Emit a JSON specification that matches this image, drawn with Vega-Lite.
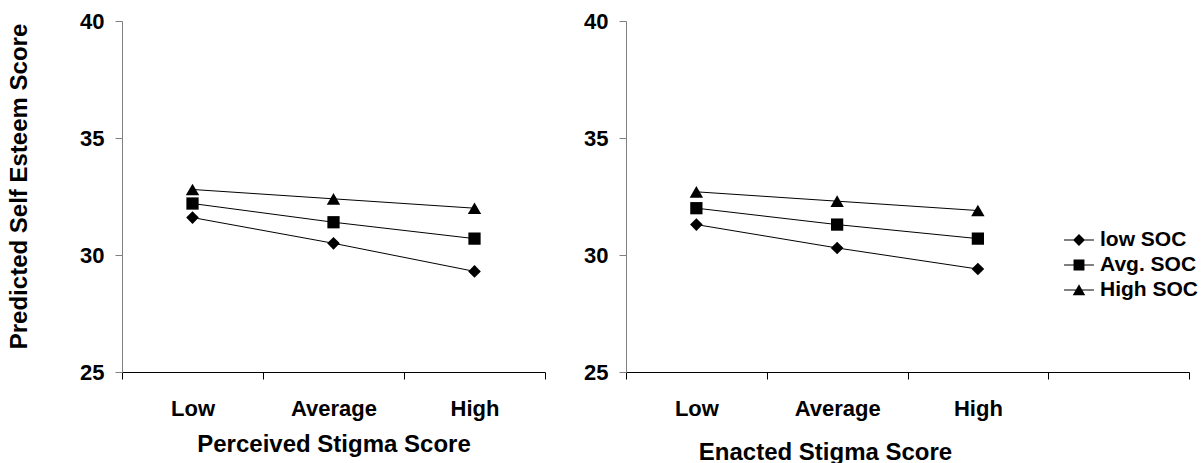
{
  "$schema": "https://vega.github.io/schema/vega-lite/v6.json",
  "padding": {"left": 7, "top": 10, "right": 0, "bottom": 0},
  "spacing": 81,
  "bounds": "flush",
  "config": {
    "view": {"stroke": null},
    "font": "Liberation Sans",
    "axis": {"grid": false, "labelFont": "Liberation Sans", "labelFontWeight": "bold", "labelColor": "black", "titleFont": "Liberation Sans", "titleFontWeight": "bold", "titleColor": "black"}
  },
  "data": {"values": [
    {"panel": "Perceived", "stigma": "Low", "series": "low SOC", "value": 31.6},
    {"panel": "Perceived", "stigma": "Low", "series": "Avg. SOC", "value": 32.2},
    {"panel": "Perceived", "stigma": "Low", "series": "High SOC", "value": 32.8},
    {"panel": "Perceived", "stigma": "Average", "series": "low SOC", "value": 30.5},
    {"panel": "Perceived", "stigma": "Average", "series": "Avg. SOC", "value": 31.4},
    {"panel": "Perceived", "stigma": "Average", "series": "High SOC", "value": 32.4},
    {"panel": "Perceived", "stigma": "High", "series": "low SOC", "value": 29.3},
    {"panel": "Perceived", "stigma": "High", "series": "Avg. SOC", "value": 30.7},
    {"panel": "Perceived", "stigma": "High", "series": "High SOC", "value": 32.0},
    {"panel": "Enacted", "stigma": "Low", "series": "low SOC", "value": 31.3},
    {"panel": "Enacted", "stigma": "Low", "series": "Avg. SOC", "value": 32.0},
    {"panel": "Enacted", "stigma": "Low", "series": "High SOC", "value": 32.7},
    {"panel": "Enacted", "stigma": "Average", "series": "low SOC", "value": 30.3},
    {"panel": "Enacted", "stigma": "Average", "series": "Avg. SOC", "value": 31.3},
    {"panel": "Enacted", "stigma": "Average", "series": "High SOC", "value": 32.3},
    {"panel": "Enacted", "stigma": "High", "series": "low SOC", "value": 29.4},
    {"panel": "Enacted", "stigma": "High", "series": "Avg. SOC", "value": 30.7},
    {"panel": "Enacted", "stigma": "High", "series": "High SOC", "value": 31.9}
  ]},
  "hconcat": [
    {
      "width": 423,
      "height": 351,
      "transform": [{"filter": "datum.panel == 'Perceived'"}],
      "encoding": {
        "x": {"field": "stigma", "type": "nominal", "sort": ["Low", "Average", "High"],
              "scale": {"type": "band", "domain": ["Low", "Average", "High"], "paddingInner": 0, "paddingOuter": 0},
              "axis": {"title": "Perceived Stigma Score", "labelAngle": 0, "tickBand": "extent", "domainColor": "black", "tickColor": "black", "tickSize": 7,
                       "labelFontSize": 22, "labelBaseline": "alphabetic", "labelPadding": 36, "titleFontSize": 24, "titleBaseline": "alphabetic", "titleY": 79}},
        "y": {"field": "value", "type": "quantitative",
              "scale": {"domain": [25, 40], "nice": false, "zero": false},
              "axis": {"title": "Predicted Self Esteem Score", "values": [25, 30, 35, 40], "domainColor": "#808080", "tickColor": "#808080", "tickSize": 7,
                       "labelFontSize": 22, "labelPadding": 11, "titleFontSize": 24, "titleAngle": 270, "titleBaseline": "alphabetic", "titleX": -96, "titleY": 165}}
      },
      "layer": [
        {"mark": {"type": "line", "color": "black", "strokeWidth": 1}, "encoding": {"detail": {"field": "series"}}},
        {"transform": [{"filter": "datum.series == 'low SOC'"}], "mark": {"type": "point", "shape": "diamond", "filled": true, "color": "black", "opacity": 1, "size": 160}},
        {"transform": [{"filter": "datum.series == 'Avg. SOC'"}], "mark": {"type": "point", "shape": "square", "filled": true, "color": "black", "opacity": 1, "size": 150}},
        {"transform": [{"filter": "datum.series == 'High SOC'"}], "mark": {"type": "point", "shape": "triangle-up", "filled": true, "color": "black", "opacity": 1, "size": 180}}
      ]
    },
    {
      "width": 563,
      "height": 351,
      "transform": [{"filter": "datum.panel == 'Enacted'"}],
      "encoding": {
        "x": {"field": "stigma", "type": "nominal",
              "scale": {"type": "band", "domain": ["Low", "Average", "High", "_"], "paddingInner": 0, "paddingOuter": 0},
              "axis": {"title": "Enacted Stigma Score", "labelAngle": 0, "labelExpr": "datum.value == '_' ? '' : datum.value", "tickBand": "extent", "domainColor": "black", "tickColor": "black", "tickSize": 7,
                       "labelFontSize": 22, "labelBaseline": "alphabetic", "labelPadding": 36, "titleFontSize": 24, "titleBaseline": "alphabetic", "titleX": 199, "titleY": 87}},
        "y": {"field": "value", "type": "quantitative",
              "scale": {"domain": [25, 40], "nice": false, "zero": false},
              "axis": {"title": null, "values": [25, 30, 35, 40], "domainColor": "#808080", "tickColor": "#808080", "tickSize": 7,
                       "labelFontSize": 22, "labelPadding": 11}}
      },
      "layer": [
        {"mark": {"type": "line", "color": "black", "strokeWidth": 1}, "encoding": {"detail": {"field": "series"}}},
        {"transform": [{"filter": "datum.series == 'low SOC'"}], "mark": {"type": "point", "shape": "diamond", "filled": true, "color": "black", "opacity": 1, "size": 160}},
        {"transform": [{"filter": "datum.series == 'Avg. SOC'"}], "mark": {"type": "point", "shape": "square", "filled": true, "color": "black", "opacity": 1, "size": 150}},
        {"transform": [{"filter": "datum.series == 'High SOC'"}], "mark": {"type": "point", "shape": "triangle-up", "filled": true, "color": "black", "opacity": 1, "size": 180}},
        {"transform": [{"filter": "false"}],
         "mark": {"type": "point", "filled": true, "color": "black", "opacity": 1},
         "encoding": {"shape": {"field": "series", "type": "nominal",
            "scale": {"domain": ["low SOC", "Avg. SOC", "High SOC"],
                      "range": ["M-1.15,-0.04H1.15V0.04H-1.15ZM0,-0.46L0.46,0L0,0.46L-0.46,0Z", "M-1.15,-0.04H1.15V0.04H-1.15ZM-0.42,-0.42H0.42V0.42H-0.42Z", "M-1.15,-0.04H1.15V0.04H-1.15ZM0,-0.44L0.48,0.4H-0.48Z"]},
            "legend": {"title": null, "orient": "none", "legendX": 943, "legendY": 205, "padding": 0, "symbolSize": 676,
                       "symbolFillColor": "black", "symbolOpacity": 1,
                       "labelFont": "Liberation Sans", "labelFontSize": 21, "labelFontWeight": "bold", "labelColor": "black", "labelOffset": 7, "rowPadding": 1, "labelLimit": 300,
                       "encode": {"symbols": {"update": {"fill": {"value": "black"}, "opacity": {"value": 1}, "size": {"value": 676}}}}}}}}
      ]
    }
  ]
}
